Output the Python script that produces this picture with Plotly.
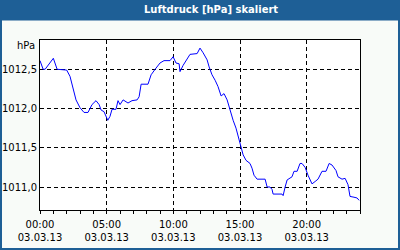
import plotly.graph_objects as go

date = "2013-03-03"
times = ["00:00", "00:14", "00:23", "01:00", "01:17", "02:00", "02:15", "02:29", "02:42", "03:00",
         "03:18", "03:36", "03:54", "04:12", "04:26", "04:35", "04:48", "05:05", "05:15", "05:24",
         "05:42", "05:51", "06:00", "06:14", "06:36", "06:54", "07:17", "07:26", "07:35", "08:06",
         "08:20", "08:38", "09:00", "09:18", "09:45", "09:59", "10:12", "10:26", "10:30", "10:44",
         "11:02", "11:15", "11:47", "12:00", "12:14", "12:32", "12:41", "12:54", "13:08", "13:21",
         "13:35", "13:48", "14:02", "14:15", "14:29", "14:42", "14:56", "15:05", "15:14", "15:27",
         "15:45", "15:54", "16:03", "16:17", "16:53", "17:02", "17:15", "17:24", "17:29", "18:09",
         "18:14", "18:23", "18:32", "18:54", "19:03", "19:17", "19:30", "19:39", "19:53", "20:06",
         "20:24", "20:38", "20:51", "21:09", "21:27", "21:41", "21:54", "22:12", "22:21", "22:39",
         "22:53", "23:06", "23:15", "23:33", "23:47", "23:56"]
pressure = [1012.61, 1012.50, 1012.50, 1012.64, 1012.50, 1012.49, 1012.41, 1012.24, 1012.11, 1012.01,
            1011.95, 1011.95, 1012.05, 1012.10, 1012.05, 1011.98, 1011.96, 1011.85, 1011.90, 1011.99,
            1011.99, 1012.10, 1012.05, 1012.11, 1012.07, 1012.10, 1012.11, 1012.15, 1012.31, 1012.31,
            1012.43, 1012.50, 1012.58, 1012.61, 1012.61, 1012.66, 1012.58, 1012.57, 1012.47, 1012.55,
            1012.64, 1012.69, 1012.70, 1012.77, 1012.71, 1012.62, 1012.53, 1012.43, 1012.36, 1012.28,
            1012.16, 1012.19, 1012.11, 1011.98, 1011.85, 1011.75, 1011.60, 1011.51, 1011.41, 1011.34,
            1011.30, 1011.24, 1011.15, 1011.10, 1011.10, 1011.00, 1011.00, 1010.97, 1010.91, 1010.91,
            1010.89, 1011.00, 1011.09, 1011.13, 1011.20, 1011.20, 1011.30, 1011.30, 1011.25, 1011.15,
            1011.04, 1011.07, 1011.10, 1011.20, 1011.20, 1011.30, 1011.28, 1011.21, 1011.13, 1011.10,
            1011.11, 1011.03, 1010.88, 1010.87, 1010.86, 1010.83]
y_ticks = [1011.0, 1011.5, 1012.0, 1012.5]
title_text = "Luftdruck [hPa] skaliert"
unit_text = "hPa"

x = [f"{date} {t}" for t in times]

BLUE = "#1E5F96"
FONT = "DejaVu Sans"

fig = go.Figure(go.Scatter(x=x, y=pressure, mode="lines",
                           line=dict(color="#0000FF", width=1), hoverinfo="skip"))

W, H = 400, 250
L, R, T, B = 40, 40, 40, 40
pw, ph = W - L - R, H - T - B


def px(xp):
    return (xp - L) / pw


def py(yp):
    return (H - B - yp) / ph


fig.update_layout(
    width=W, height=H, autosize=False,
    margin=dict(l=L, r=R, t=T, b=B, pad=0),
    paper_bgcolor="#F8FBF8", plot_bgcolor="white",
    showlegend=False,
    separators=",.",
    font=dict(family=FONT, size=10, color="black"),
    shapes=[
        dict(type="rect", xref="paper", yref="paper", x0=px(0), x1=px(W), y0=py(20.5), y1=py(0),
             fillcolor=BLUE, line=dict(width=0), layer="above"),
        dict(type="rect", xref="paper", yref="paper", x0=px(1), x1=px(399), y0=py(249), y1=py(0),
             fillcolor="rgba(0,0,0,0)", line=dict(color=BLUE, width=2), layer="above"),
    ],
    annotations=[
        dict(text=f"<b>{title_text}</b>", xref="paper", yref="paper", x=px(211), y=py(10),
             xanchor="center", yanchor="middle", showarrow=False,
             font=dict(family=FONT, size=10, color="white")),
        dict(text=unit_text, xref="paper", yref="paper", x=px(37), y=py(45.5),
             xanchor="right", yanchor="middle", showarrow=False,
             font=dict(family=FONT, size=10, color="black")),
    ],
)

fig.update_xaxes(
    type="date",
    range=[f"{date} 00:00", "2013-03-04 00:00"],
    tick0=f"{date} 00:00", dtick=5 * 3600000,
    tickformat="%H:%M<br>%d.%m.%y",
    ticks="outside", ticklen=3, tickcolor="black", tickwidth=1,
    minor=dict(dtick=3600000, ticks="outside", ticklen=3, tickcolor="black", showgrid=False),
    showgrid=True, gridcolor="black", gridwidth=1, griddash="4px,3px",
    showline=True, linecolor="black", linewidth=1, mirror=True,
    ticklabelstandoff=2,
    automargin=False,
    zeroline=False,
)
fig.update_yaxes(
    range=[1010.707, 1012.873],
    tickvals=y_ticks, tickformat=".1f",
    ticks="",
    showgrid=True, gridcolor="black", gridwidth=1, griddash="4px,3px",
    showline=True, linecolor="black", linewidth=1, mirror=True,
    zeroline=False,
    automargin=False,
    ticklabelstandoff=0,
)

fig.write_html("out.html")
